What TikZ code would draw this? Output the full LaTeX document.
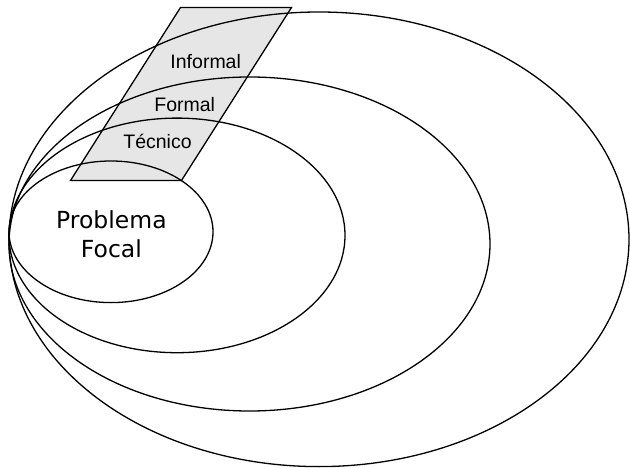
\documentclass[tikz,border=0pt]{standalone}
\usepackage{fontspec}
\newfontfamily\labfont{Liberation Sans}
\newfontfamily\focfont{DejaVu Sans}
\definecolor{panelgray}{RGB}{230,230,230}
\tikzset{
  ring/.style={draw=black, line width=1.3pt},
  panel/.style={draw=black, line width=1.3pt, fill=panelgray, line join=miter},
  lab/.style={inner sep=0pt, anchor=base, font=\labfont\fontsize{19.5}{22}\selectfont},
  focal/.style={inner sep=0pt, align=center, font=\focfont\fontsize{23.5}{29.3}\selectfont}
}
\begin{document}
\begin{tikzpicture}[x=1pt,y=-1pt]
\useasboundingbox (0,0) rectangle (630,468);
% slanted panel
\coordinate (p1) at (70.5,180.5);
\coordinate (p2) at (181.5,180.5);
\coordinate (p3) at (291.5,7.5);
\coordinate (p4) at (180.5,7.5);
\draw[panel] (p1) -- (p2) -- (p3) -- (p4) -- cycle;
% nested ellipses
\draw[ring] (319,239.3) ellipse [x radius=310pt, y radius=227.3pt];
\draw[ring] (249.5,244) ellipse [x radius=240.5pt, y radius=167pt];
\draw[ring] (177,235.4) ellipse [x radius=168pt, y radius=117.3pt];
\draw[ring] (111,231.8) ellipse [x radius=102pt, y radius=70.8pt];
% labels
\node[lab] (informal) at (205.7,68.3) {Informal};
\node[lab] (formal) at (184.7,111.7) {Formal};
\node[lab] (tecnico) at (157.5,148.3) {Técnico};
\node[focal] (focal) at (111.4,234.5) {Problema\\Focal};
\end{tikzpicture}
\end{document}
